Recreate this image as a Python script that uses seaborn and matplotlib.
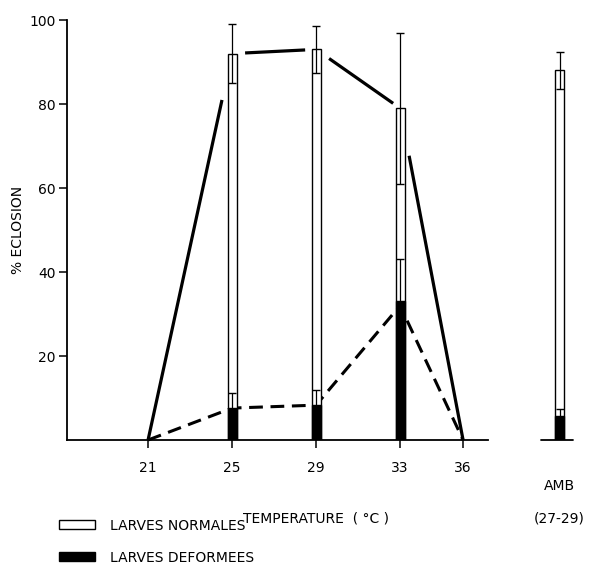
import numpy as np
import pandas as pd
import matplotlib
matplotlib.use('Agg')
import matplotlib.pyplot as plt
import matplotlib.patches as mpatches
import seaborn as sns

# courbes (moyennes)
line_temps = [21, 25, 29, 33, 36]
line_total = [0, 92, 93, 79, 0]
line_deformed = [0, 7.6, 8.3, 32, 0]

# barres
bar_labels = ['25', '29', '33', 'AMB']
bar_x = [25, 29, 33, 40.6]
bar_total = [92, 93, 79, 88]
bar_total_err = [7, 5.5, 18, 4.5]
bar_deformed = [7.6, 8.3, 33, 5.7]
bar_deformed_err = [3.5, 3.7, 10, 1.7]

tick_vals = [21, 25, 29, 33, 36]
tick_labels = ['21', '25', '29', '33', '36']

sns.set_style('ticks')
plt.rcParams['font.family'] = ['DejaVu Sans']
plt.rcParams['text.color'] = 'black'
plt.rcParams['axes.labelcolor'] = 'black'
plt.rcParams['xtick.color'] = 'black'
plt.rcParams['ytick.color'] = 'black'
plt.rcParams['axes.edgecolor'] = 'black'

fig = plt.figure(figsize=(6.1, 5.65), dpi=100)
ax = fig.add_axes([67 / 610, 125 / 565, 533 / 610, 420 / 565])

df = pd.DataFrame({'x': bar_x, 'total': bar_total, 'deformed': bar_deformed})
sns.barplot(data=df, x='x', y='total', native_scale=True, width=0.107,
            color='white', edgecolor='black', linewidth=1.0, errorbar=None,
            saturation=1, ax=ax, zorder=3)
sns.barplot(data=df, x='x', y='deformed', native_scale=True, width=0.107,
            color='black', edgecolor='black', linewidth=1.0, errorbar=None,
            saturation=1, ax=ax, zorder=4)
ax.errorbar(bar_x, bar_total, yerr=bar_total_err, fmt='none', ecolor='black',
            elinewidth=0.9, capsize=3, capthick=1, zorder=5)
ax.errorbar(bar_x, bar_deformed, yerr=bar_deformed_err, fmt='none', ecolor='black',
            elinewidth=0.9, capsize=3, capthick=1, zorder=5)

# trait plein, interrompu autour des barres
gaps = [(0, 0.48), (0.62, 0.52), (0.62, 0.33), (0.43, 0)]
for i, (g0, g1) in enumerate(gaps):
    x0, x1 = line_temps[i], line_temps[i + 1]
    y0, y1 = line_total[i], line_total[i + 1]
    slope = (y1 - y0) / (x1 - x0)
    xs = [x0 + g0, x1 - g1]
    ys = [y0 + slope * g0, y1 - slope * g1]
    ax.plot(xs, ys, color='black', lw=2.3, solid_capstyle='butt', clip_on=False, zorder=2)

sns.lineplot(x=line_temps, y=line_deformed, ax=ax, color='black', lw=2.2,
             dashes=False, clip_on=False, zorder=2)
ax.lines[-1].set_dashes([4.5, 2.5])

ax.set_xlim(17.14, 42.52)
ax.set_ylim(0, 100)
sns.despine(ax=ax)
ax.spines['left'].set_linewidth(1.3)
ax.spines['bottom'].set_linewidth(1.3)
ax.spines['bottom'].set_bounds(17.14, 37.2)
ax.plot([39.7, 41.25], [0, 0], color='black', lw=1.3, clip_on=False)

ax.set_xticks(tick_vals)
ax.set_xticklabels(tick_labels, fontsize=10)
ax.set_yticks([20, 40, 60, 80, 100])
ax.set_yticklabels(['20', '40', '60', '80', '100'], fontsize=10)
ax.tick_params(axis='x', direction='out', length=6, width=1.1, color='black', pad=9)
ax.tick_params(axis='y', direction='out', length=6, width=1.1, color='black', pad=2)
ax.text(bar_x[-1], -11, 'AMB', ha='center', va='center', fontsize=10)
ax.text(bar_x[-1], -18.6, '(27-29)', ha='center', va='center', fontsize=10)

ax.set_xlabel('')
ax.set_ylabel('% ECLOSION', fontsize=10, labelpad=3)
fig.text(316 / 610, 1 - 518 / 565, 'TEMPERATURE  ( °C )', ha='center', va='center', fontsize=10)

handles = [mpatches.Patch(facecolor='white', edgecolor='black', lw=1.0),
           mpatches.Patch(facecolor='black', edgecolor='black')]
fig.legend(handles, ['LARVES NORMALES', 'LARVES DEFORMEES'], loc='upper left',
           bbox_to_anchor=(46 / 610, 1 - 506 / 565), frameon=False, fontsize=10,
           handlelength=2.6, handleheight=0.6, labelspacing=1.3, handletextpad=1.1)

fig.savefig('out.png', dpi=100)
